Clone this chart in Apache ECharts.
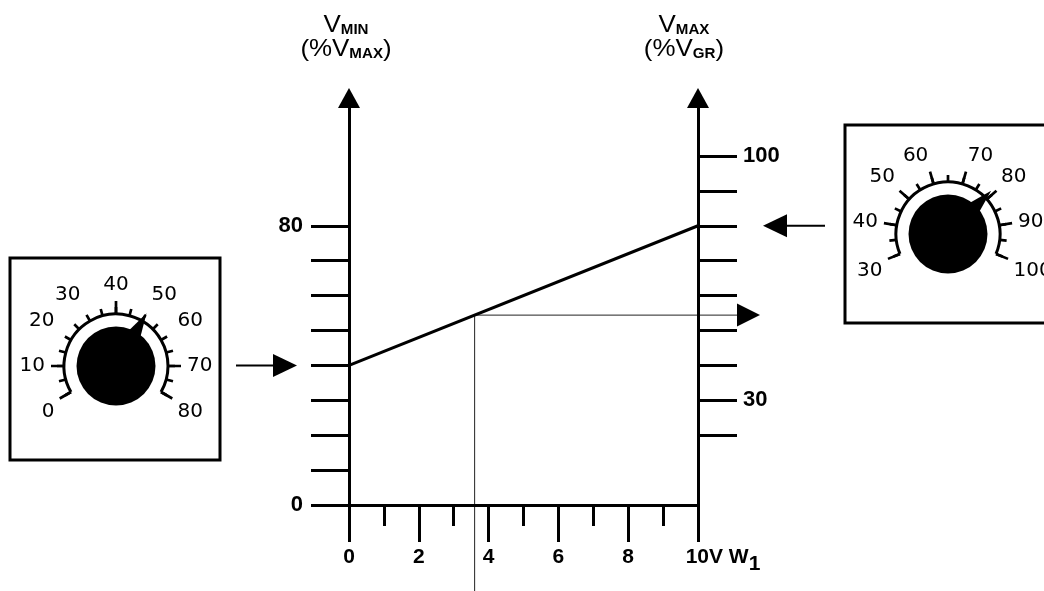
<!DOCTYPE html>
<html><head><meta charset="utf-8">
<script src="https://cdn.jsdelivr.net/npm/echarts@6/dist/echarts.min.js"></script>
<style>html,body{margin:0;padding:0;background:#fff}#c{width:1044px;height:591px}</style>
</head><body><div id="c"></div>
<script>
// ---------- data ----------
const xTickValues = [0, 2, 4, 6, 8, 10];
const lineX = [0, 10];
const lineY = [40, 80];
const guideX = 3.6;
const guideY = 54.4;
const leftTicks = [0, 10, 20, 30, 40, 50, 60, 70, 80];
const leftLabels = [0, 80];
const rightTicks = [20, 30, 40, 50, 60, 70, 80, 90, 100];
const rightLabels = [30, 100];
const vminSetting = 40;
const vmaxSetting = 80;
const leftDialRange = [0, 80];
const leftDialLong = [0, 10, 40, 70, 80];
const leftDialValue = 50;
const rightDialRange = [30, 100];
const rightDialLong = [30, 40, 50, 60, 70, 80, 90, 100];
const rightDialValue = 79;

// ---------- styling ----------
const BLACK = '#000';
const FB = '"Liberation Sans", Arial, sans-serif';
const FD = '"DejaVu Sans", sans-serif';

const chart = echarts.init(document.getElementById('c'), null, {renderer: 'canvas'});

function yAxisBase(pos, ticks, labels, tickLen, margin) {
  return {
    type: 'value', position: pos, min: 0, max: 116.6, interval: 10,
    axisLine: {show: true, onZero: false, symbol: ['none', 'triangle'], symbolSize: [22, 20],
      lineStyle: {color: BLACK, width: 3}},
    axisTick: {show: true, inside: false, length: tickLen, customValues: ticks,
      lineStyle: {color: BLACK, width: 3}},
    axisLabel: {show: true, customValues: labels, margin: margin, color: BLACK,
      fontFamily: FB, fontWeight: 'bold', fontSize: 22},
    splitLine: {show: false}
  };
}

function dialPolar(center) {
  return {center: center, radius: 52};
}
function dialAngleShort(idx, range, start, end) {
  return {
    polarIndex: idx, type: 'value', min: range[0], max: range[1], interval: 5,
    startAngle: start, endAngle: end, clockwise: true,
    axisLine: {show: true, lineStyle: {color: BLACK, width: 3}},
    axisTick: {show: true, length: 7, lineStyle: {color: BLACK, width: 2.7}},
    axisLabel: {show: true, margin: 19, color: BLACK, fontFamily: FD, fontSize: 20,
      formatter: v => (v % 10 === 0 ? String(v) : '')},
    splitLine: {show: false}
  };
}
function dialAngleLong(idx, range, start, end, longs) {
  return {
    polarIndex: idx, type: 'value', min: range[0], max: range[1], interval: 5,
    startAngle: start, endAngle: end, clockwise: true,
    axisLine: {show: false},
    axisTick: {show: true, length: 13, customValues: longs, lineStyle: {color: BLACK, width: 2.7}},
    axisLabel: {show: false},
    splitLine: {show: false}
  };
}
function dialGauge(center, range, start, end, value) {
  return {
    type: 'gauge', center: center, radius: 52, startAngle: start, endAngle: end,
    min: range[0], max: range[1], z: 5,
    axisLine: {show: false}, splitLine: {show: false}, axisTick: {show: false},
    axisLabel: {show: false}, progress: {show: false},
    pointer: {show: true, icon: 'triangle', length: 61, width: 34, itemStyle: {color: BLACK}},
    anchor: {show: true, size: 79, showAbove: true, itemStyle: {color: BLACK}},
    title: {show: false}, detail: {show: false},
    data: [{value: value}]
  };
}

const LC = [116, 366], RC = [948, 234];

const option = {
  animation: false,
  backgroundColor: '#fff',
  grid: {left: 349, right: 346, top: 98, bottom: 86, outerBoundsMode: 'none', containLabel: false},
  xAxis: {
    type: 'value', min: 0, max: 10, interval: 2,
    axisLine: {show: true, onZero: false, lineStyle: {color: BLACK, width: 3}},
    axisTick: {show: true, length: 37, customValues: xTickValues, lineStyle: {color: BLACK, width: 3}},
    minorTick: {show: true, splitNumber: 2, length: 21, lineStyle: {color: BLACK, width: 3}},
    axisLabel: {
      show: true, margin: 42, color: BLACK, fontFamily: FB, fontWeight: 'bold', fontSize: 21,
      formatter: v => (v === 10 ? '{pad|}{a|10}{b|V W}{s|1}' : '{a|' + v + '}'),
      rich: {
        pad: {width: 50, verticalAlign: 'top'},
        a: {fontFamily: FB, fontWeight: 'bold', fontSize: 21, color: BLACK, verticalAlign: 'top'},
        b: {fontFamily: FB, fontWeight: 'bold', fontSize: 21, color: BLACK, verticalAlign: 'top'},
        s: {fontFamily: FB, fontWeight: 'bold', fontSize: 21, color: BLACK, verticalAlign: 'top', padding: [7, 0, 0, 0]}
      }
    },
    splitLine: {show: false}, minorSplitLine: {show: false}
  },
  yAxis: [
    yAxisBase('left', leftTicks, leftLabels, 38, 46),
    yAxisBase('right', rightTicks, rightLabels, 39, 45)
  ],
  polar: [dialPolar(LC), dialPolar(LC), dialPolar(RC), dialPolar(RC)],
  angleAxis: [
    dialAngleShort(0, leftDialRange, 210, -30),
    dialAngleLong(1, leftDialRange, 210, -30, leftDialLong),
    dialAngleShort(2, rightDialRange, 202.5, -22.5),
    dialAngleLong(3, rightDialRange, 202.5, -22.5, rightDialLong)
  ],
  radiusAxis: [0, 1, 2, 3].map(i => ({polarIndex: i, show: false, type: 'value', min: 0, max: 1})),
  series: [
    {
      type: 'line', xAxisIndex: 0, yAxisIndex: 0, symbol: 'none',
      lineStyle: {color: BLACK, width: 3},
      data: lineX.map((x, i) => [x, lineY[i]]), z: 3
    },
    dialGauge(LC, leftDialRange, 210, -30, leftDialValue),
    dialGauge(RC, rightDialRange, 202.5, -22.5, rightDialValue)
  ]
};
chart.setOption(option);

// ---------- annotations placed through the chart's own scale ----------
const gp = chart.convertToPixel({seriesIndex: 0}, [guideX, guideY]);
const yMin = chart.convertToPixel({seriesIndex: 0}, [0, vminSetting])[1];
const yMax = chart.convertToPixel({seriesIndex: 0}, [10, vmaxSetting])[1];

const thin = {stroke: '#222', lineWidth: 1};
const arrowLine = {stroke: BLACK, lineWidth: 2};
function titleText(x, y, main, sub, tail) {
  return {
    type: 'text', x: x, y: y, scaleX: 1.08, z: 10,
    style: {
      text: '{m|' + main + '}{s|' + sub + '}' + (tail ? '{m|' + tail + '}' : ''),
      align: 'center', verticalAlign: 'middle', fill: BLACK,
      rich: {
        m: {fontFamily: FB, fontSize: 24, fontWeight: 500, fill: BLACK, verticalAlign: 'bottom'},
        s: {fontFamily: FB, fontSize: 14, fontWeight: 'bold', fill: BLACK, verticalAlign: 'bottom'}
      }
    }
  };
}

chart.setOption({
  graphic: [
    {type: 'rect', shape: {x: 10, y: 258, width: 210, height: 202}, style: {fill: 'none', stroke: BLACK, lineWidth: 3}, z: 1},
    {type: 'rect', shape: {x: 845, y: 125, width: 230, height: 198}, style: {fill: 'none', stroke: BLACK, lineWidth: 3}, z: 1},
    // left input arrow (V_MIN setting)
    {type: 'line', shape: {x1: 236, y1: yMin, x2: 275, y2: yMin}, style: arrowLine},
    {type: 'polygon', shape: {points: [[273, yMin - 11.5], [297, yMin], [273, yMin + 11.5]]}, style: {fill: BLACK}},
    // right input arrow (V_MAX setting)
    {type: 'line', shape: {x1: 785, y1: yMax, x2: 825, y2: yMax}, style: arrowLine},
    {type: 'polygon', shape: {points: [[787, yMax - 11.5], [763, yMax], [787, yMax + 11.5]]}, style: {fill: BLACK}},
    // guide lines from the operating point
    {type: 'line', shape: {x1: gp[0], y1: gp[1], x2: 739, y2: gp[1]}, style: thin},
    {type: 'polygon', shape: {points: [[737, gp[1] - 11.5], [760, gp[1]], [737, gp[1] + 11.5]]}, style: {fill: BLACK}},
    {type: 'line', shape: {x1: gp[0], y1: gp[1], x2: gp[0], y2: 591}, style: thin},
    // axis titles
    titleText(346, 25, 'V', 'MIN', ''),
    titleText(346, 49, '(%V', 'MAX', ')'),
    titleText(684, 25, 'V', 'MAX', ''),
    titleText(684, 49, '(%V', 'GR', ')')
  ]
});
</script>
</body></html>
